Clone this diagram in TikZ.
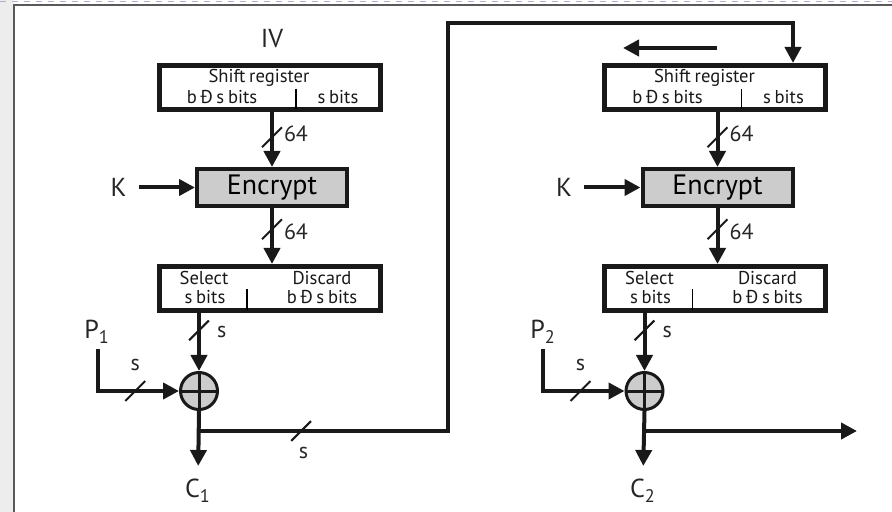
\documentclass[tikz,border=0pt]{standalone}
\usepackage{fontspec}
\setmainfont{PT Sans}
\usetikzlibrary{positioning,arrows.meta,calc}
\newcommand{\regfont}{\fontsize{9.3}{10}\selectfont\spaceskip=0.2em\relax}

\begin{document}
\begin{tikzpicture}[
    x=0.5pt, y=-0.5pt,
    reg/.style={draw=black!90, line width=2.5pt, minimum width=110.5pt,
                minimum height=22pt, inner sep=0pt},
    enc/.style={draw=black!90, line width=2pt, fill=black!20, minimum width=75pt,
                minimum height=18.5pt, inner sep=0pt, font=\fontsize{14}{15}\selectfont},
    xorop/.style={circle, draw=black!90, line width=1.5pt, fill=black!20,
                  minimum size=18.5pt, inner sep=0pt,
                  path picture={\draw[black!90, line width=1.5pt]
                    (path picture bounding box.north) -- (path picture bounding box.south)
                    (path picture bounding box.west) -- (path picture bounding box.east);}},
    tiny/.style={font=\regfont, inner sep=0pt, anchor=base, text=black!90},
    big/.style={font=\fontsize{13}{14}\selectfont, inner sep=0pt, text=black!85},
    annot/.style={font=\fontsize{11}{12}\selectfont, inner sep=0pt, text=black!85},
    slash/.style={draw=black!90, line width=1pt, rotate=-45, minimum width=0pt,
                  minimum height=14pt, inner sep=0pt, outer sep=0pt},
    arrow/.style={-{Triangle[length=8pt, width=8pt]}, line width=2pt, draw=black!90},
  ]
    \useasboundingbox (0,0) rectangle (892,512);

    % screen frame
    \fill[black!7] (0,0) rectangle (13,512);
    \draw[blue!25!gray!50, dashed, line width=0.8pt] (0,1.5) -- (892,1.5);
    \draw[black!65, line width=1.2pt] (14,512) -- (14,5) -- (892,5);

    % left column
    \node[big] (iv1) at (272,39) {IV};
    \node[reg] (sr1) at (269.5,87.5) {};
    \node[tiny] (srt1) at (259,83) {Shift register};
    \node[tiny] (srl1) at (222,104) {b Đ s bits};
    \node[tiny] (srr1) at (338,104) {s bits};
    \draw[line width=0.7pt] (296,89) -- (296,109);

    \node[enc] (enc1) at (272,187.5) {Encrypt};
    \node[big] (k1) at (118.5,187.5) {K};

    \node[reg] (sel1) at (269.5,288.5) {};
    \node[tiny] (sels1) at (204,285) {Select};
    \node[tiny] (selb1) at (205,304) {s bits};
    \node[tiny] (dis1) at (322,285) {Discard};
    \node[tiny] (disb1) at (322,304) {b Đ s bits};
    \draw[line width=0.7pt] (247,289) -- (247,310);

    \node[xorop] (xor1) at (199,391) {};
    \node[big] (p1) at (97,332) {P\textsubscript{1}};
    \node[big] (c1) at (198,491) {C\textsubscript{1}};

    \draw[arrow] (sr1.south -| enc1.north) -- node[slash,pos=0.46] (sl1) {}
       node[annot,pos=0.4,right=5pt] (la1) {64} (enc1.north);
    \draw[arrow, shorten <=6pt] (k1.east) -- (enc1.west);
    \draw[arrow] (enc1.south) -- node[slash,pos=0.38] (sl2) {}
       node[annot,pos=0.43,right=5pt] (la2) {64} (sel1.north -| enc1.south);
    \draw[arrow] (sel1.south -| xor1.north) -- node[slash,pos=0.3] (sl3) {}
       node[annot,pos=0.33,right=8pt] (la3) {s} (xor1.north);
    \coordinate (pin1) at (98,349);
    \draw[arrow] (pin1) |- node[slash,pos=0.73] (sl4) {}
       node[annot,pos=0.73,above=9pt] (la4) {s} (xor1.west);
    \draw[arrow, shorten >=6.5pt] (xor1.south) -- (c1.north);

    % right column
    \node[reg] (sr2) at (715,87.5) {};
    \node[tiny] (srt2) at (704.5,83) {Shift register};
    \node[tiny] (srl2) at (667.5,104) {b Đ s bits};
    \node[tiny] (srr2) at (783.5,104) {s bits};
    \draw[line width=0.7pt] (741.5,89) -- (741.5,109);
    \coordinate (sh1) at (717,48);
    \coordinate (sh2) at (623,48);
    \draw[arrow] (sh1) -- (sh2);

    \node[enc] (enc2) at (717.5,187.5) {Encrypt};
    \node[big] (k2) at (564,187.5) {K};

    \node[reg] (sel2) at (715,288.5) {};
    \node[tiny] (sels2) at (649.5,285) {Select};
    \node[tiny] (selb2) at (650.5,304) {s bits};
    \node[tiny] (dis2) at (767.5,285) {Discard};
    \node[tiny] (disb2) at (767.5,304) {b Đ s bits};
    \draw[line width=0.7pt] (692.5,289) -- (692.5,310);

    \node[xorop] (xor2) at (644.5,391) {};
    \node[big] (p2) at (543,332) {P\textsubscript{2}};
    \node[big] (c2) at (643,491) {C\textsubscript{2}};

    \draw[arrow] (sr2.south -| enc2.north) -- node[slash,pos=0.46] (sl6) {}
       node[annot,pos=0.4,right=5pt] (la6) {64} (enc2.north);
    \draw[arrow, shorten <=6pt] (k2.east) -- (enc2.west);
    \draw[arrow] (enc2.south) -- node[slash,pos=0.38] (sl7) {}
       node[annot,pos=0.43,right=5pt] (la7) {64} (sel2.north -| enc2.south);
    \draw[arrow] (sel2.south -| xor2.north) -- node[slash,pos=0.3] (sl8) {}
       node[annot,pos=0.33,right=8pt] (la8) {s} (xor2.north);
    \coordinate (pin2) at (543,349);
    \draw[arrow] (pin2) |- node[slash,pos=0.73] (sl9) {}
       node[annot,pos=0.73,above=9pt] (la9) {s} (xor2.west);
    \draw[arrow, shorten >=6.5pt] (xor2.south) -- (c2.north);

    % feedback of the ciphertext
    \coordinate (br1) at (199,431);
    \coordinate (fb1) at (448,431);
    \coordinate (fb2) at (448,23);
    \draw[arrow] (br1) -- node[slash,pos=0.41] (sl5) {}
       node[annot,pos=0.42,below=7pt] (la5) {s} (fb1) -- (fb2)
       -| ([xshift=39pt]sr2.north);

    % output branch
    \coordinate (br2) at (644.5,431);
    \coordinate (out2) at (857,431);
    \draw[arrow] (br2) -- (out2);
\end{tikzpicture}
\end{document}
